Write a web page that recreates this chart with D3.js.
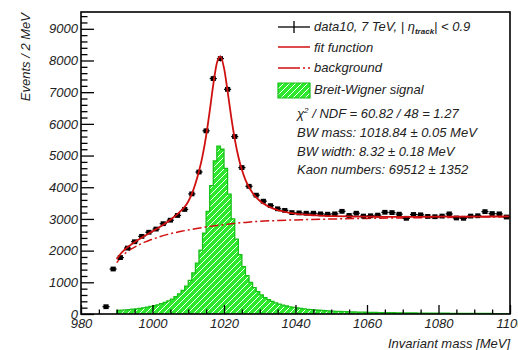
<!DOCTYPE html>
<html><head><meta charset="utf-8">
<script src="https://cdn.jsdelivr.net/npm/d3@7"></script>
<style>
html,body{margin:0;padding:0;background:#fff;}
svg{display:block;}
text{font-family:"Liberation Sans",Arial,Helvetica,sans-serif;font-style:italic;}
</style></head>
<body><svg id="c" width="518" height="350"></svg>
<script>
// ---- data ----
const xTicks = [980, 1000, 1020, 1040, 1060, 1080, 1100];
const yTicks = [0, 1000, 2000, 3000, 4000, 5000, 6000, 7000, 8000, 9000];

// measured points (bin centres, 2 MeV bins)
const dataMass = [987, 989, 991, 993, 995, 997, 999, 1001, 1003, 1005, 1007, 1009,
  1011, 1013, 1015, 1017, 1019, 1021, 1023, 1025, 1027, 1029, 1031, 1033, 1035, 1037, 1039,
  1041, 1043, 1045, 1047, 1049, 1051, 1053, 1055, 1057, 1059, 1061, 1063, 1065, 1067, 1069,
  1071, 1073, 1075, 1077, 1079, 1081, 1083, 1085, 1087, 1089, 1091, 1093, 1095, 1097, 1099];
const dataCounts = [230, 1420, 1780, 2080, 2280, 2450, 2580, 2680, 2850, 2960, 3110, 3300,
  3790, 4480, 5780, 7430, 8060, 7090, 5600, 4620, 4030, 3750, 3560, 3420, 3320, 3270, 3200,
  3190, 3180, 3180, 3160, 3150, 3160, 3240, 3110, 3180, 3090, 3100, 3120, 3210, 3200, 3150,
  3020, 3140, 3130, 3080, 3070, 3090, 3160, 3030, 3020, 3090, 3100, 3230, 3170, 3160, 3060];

// fit function (signal + background)
const fitMass = [990, 991, 992, 993, 994, 995, 996, 997, 998, 999, 1000, 1001, 1002, 1003, 1004,
  1005, 1006, 1007, 1008, 1009, 1010, 1011, 1012, 1013, 1014, 1015, 1016, 1017, 1018, 1019,
  1020, 1021, 1022, 1023, 1024, 1025, 1026, 1027, 1028, 1029, 1030, 1031, 1032, 1033, 1034,
  1035, 1036, 1037, 1038, 1039, 1040, 1042, 1044, 1046, 1048, 1050, 1055, 1060, 1065, 1070,
  1080, 1090, 1100];
const fitValues = [1729, 1886, 2005, 2105, 2190, 2268, 2341, 2412, 2479, 2544, 2608, 2675, 2745, 2816, 2892,
  2975, 3060, 3150, 3260, 3380, 3550, 3790, 4110, 4504, 4992, 5623, 6401, 7238, 7916, 8132,
  7765, 7033, 6225, 5525, 4969, 4549, 4235, 3999, 3821, 3680, 3575, 3488, 3419, 3363, 3318,
  3281, 3251, 3224, 3202, 3184, 3168, 3143, 3124, 3110, 3099, 3091, 3078, 3071, 3068, 3067,
  3070, 3074, 3080];

// background component
const bgMass = [990, 991, 992, 993, 994, 995, 996, 997, 998, 999, 1000, 1002, 1004, 1006, 1008,
  1010, 1012, 1014, 1016, 1018, 1020, 1022, 1024, 1026, 1028, 1030, 1035, 1040, 1050, 1060,
  1070, 1080, 1090, 1100];
const bgValues = [1620, 1770, 1880, 1970, 2045, 2110, 2170, 2225, 2275, 2320, 2360, 2438, 2504, 2560, 2608,
  2652, 2692, 2728, 2765, 2795, 2820, 2845, 2870, 2890, 2910, 2925, 2950, 2970, 2998, 3017,
  3032, 3045, 3056, 3066];

// Breit-Wigner signal histogram (1 MeV bins starting at 990 MeV)
const sigStart = 990, sigBin = 1;
const sigValues = [112, 121, 130, 140, 151, 164, 179, 195, 214, 236,
  261, 290, 324, 365, 414, 472, 544, 632, 742, 882,
  1062, 1296, 1604, 2013, 2553, 3240, 4049, 4829, 5295, 5199,
  4598, 3783, 3004, 2364, 1870, 1496, 1214, 999, 834, 704,
  602, 519, 452, 397, 351, 313, 280, 252, 228, 208,
  190, 174, 160, 147, 136, 127, 118, 110, 103, 96,
  90, 85, 80, 75, 71, 67, 64, 60, 57, 55,
  52, 50, 48, 46, 44, 42, 40, 39, 37, 36,
  35, 33, 32, 31, 30, 29, 28, 27, 26, 25,
  24, 23, 23, 22, 21, 21, 20, 19, 19, 18,
  18, 17, 17, 16, 16, 15, 15, 15, 14, 14];

const legendEntries = ["fit function", "background", "Breit-Wigner signal"];
const statLines = ["BW mass: 1018.84 \u00b1 0.05 MeV", "BW width: 8.32 \u00b1 0.18 MeV", "Kaon numbers: 69512 \u00b1 1352"];

// ---- drawing ----
const svg = d3.select("#c");
const L = 81, R = 510, T = 12, B = 314;
const x = d3.scaleLinear().domain([980, 1100]).range([L, R]);
const y = d3.scaleLinear().domain([0, 9530]).range([B, T]);

const RED = "#d01010", GREEN = "#2ee82e", GREEN_D = "#18c018";

const defs = svg.append("defs");
const clip = defs.append("clipPath").attr("id", "pc");
clip.append("rect").attr("x", L).attr("y", T).attr("width", R - L).attr("height", B - T);

const plot = svg.append("g").attr("clip-path", "url(#pc)");

// hatched fill helper: green fill + white diagonal lines clipped to a shape
function hatch(parent, id, shapeD, bx0, by0, bx1, by1) {
  defs.append("clipPath").attr("id", id).append("path").attr("d", shapeD);
  const g = parent.append("g");
  g.append("path").attr("d", shapeD).attr("fill", GREEN);
  const hg = g.append("g").attr("clip-path", `url(#${id})`);
  const h = by1 - by0;
  d3.range(bx0 - h, bx1 + 6, 6).forEach(s => {
    hg.append("line").attr("x1", s).attr("y1", by1).attr("x2", s + h).attr("y2", by0)
      .attr("stroke", "#fff").attr("stroke-width", 1);
  });
  return g;
}

// signal histogram
const sigPts = sigValues.map((v, i) => ({m: sigStart + i * sigBin, v}));
sigPts.push({m: sigStart + sigValues.length * sigBin, v: sigValues[sigValues.length - 1]});
const sigArea = d3.area().curve(d3.curveStepAfter)
  .x(d => x(d.m)).y0(y(0)).y1(d => y(d.v));
hatch(plot, "sigclip", sigArea(sigPts), L, T, R, B);
const sigLine = d3.line().curve(d3.curveStepAfter).x(d => x(d.m)).y(d => y(d.v));
plot.append("path").datum([{m: sigStart, v: 0}].concat(sigPts)).attr("d", sigLine)
  .attr("fill", "none").attr("stroke", GREEN_D).attr("stroke-width", 1.3);

// background
const bgLine = d3.line().curve(d3.curveMonotoneX).x((d, i) => x(bgMass[i])).y(d => y(d));
plot.append("path").datum(bgValues).attr("d", bgLine)
  .attr("fill", "none").attr("stroke", RED).attr("stroke-width", 1.5)
  .attr("stroke-dasharray", "9,3,2,3");

// data points
const pts = plot.append("g");
dataMass.forEach((m, i) => {
  const c = dataCounts[i], e = Math.sqrt(c);
  const cx = x(m), cy = y(c);
  pts.append("line").attr("x1", x(m - 1)).attr("x2", x(m + 1)).attr("y1", cy).attr("y2", cy)
    .attr("stroke", "#000").attr("stroke-width", 1.2);
  pts.append("line").attr("x1", cx).attr("x2", cx).attr("y1", y(c - e)).attr("y2", y(c + e))
    .attr("stroke", "#000").attr("stroke-width", 1.2);
  pts.append("rect").attr("x", cx - 2.6).attr("y", cy - 2.4).attr("width", 5.2).attr("height", 4.8)
    .attr("fill", "#000");
});

// fit
const fitLine = d3.line().curve(d3.curveMonotoneX).x((d, i) => x(fitMass[i])).y(d => y(d));
plot.append("path").datum(fitValues).attr("d", fitLine)
  .attr("fill", "none").attr("stroke", RED).attr("stroke-width", 1.8);

// axes
const xMinor = d3.range(980, 1101, 5).filter(v => !xTicks.includes(v));
const yMinor = d3.range(0, 9530, 200).filter(v => !yTicks.includes(v));

function styleAxis(g) {
  g.select(".domain").remove();
  g.selectAll(".tick line").attr("stroke", "#000").attr("stroke-width", 1.3);
  g.selectAll("text").attr("fill", "#222").style("font-size", "13px").style("font-style", "italic")
    .style("font-family", "'Liberation Sans',Arial,sans-serif");
}
svg.append("g").attr("transform", `translate(0,${B})`)
  .call(d3.axisBottom(x).tickValues(xMinor).tickSize(-4.5).tickFormat(""))
  .call(styleAxis);
svg.append("g").attr("transform", `translate(0,${B})`)
  .call(d3.axisBottom(x).tickValues(xTicks).tickSize(-9).tickPadding(5).tickFormat(d3.format("d")))
  .call(styleAxis);
svg.append("g").attr("transform", `translate(${L},0)`)
  .call(d3.axisLeft(y).tickValues(yMinor).tickSize(-6.5).tickFormat(""))
  .call(styleAxis);
svg.append("g").attr("transform", `translate(${L},0)`)
  .call(d3.axisLeft(y).tickValues(yTicks).tickSize(-13).tickPadding(3).tickFormat(d3.format("d")))
  .call(styleAxis);

// frame
svg.append("rect").attr("x", L).attr("y", T).attr("width", R - L).attr("height", B - T)
  .attr("fill", "none").attr("stroke", "#000").attr("stroke-width", 1.6);

// axis titles
svg.append("text").attr("transform", "translate(30,13) rotate(-90)").attr("text-anchor", "end")
  .style("font-size", "13px").attr("fill", "#222").text("Events / 2 MeV");
svg.append("text").attr("x", 510).attr("y", 348).attr("text-anchor", "end")
  .style("font-size", "13px").attr("fill", "#222").text("Invariant mass [MeV]");

// legend
const lg = svg.append("g");
const lx0 = 278, lx1 = 310, tx = 314;
// data entry
lg.append("line").attr("x1", lx0).attr("x2", lx1).attr("y1", 27).attr("y2", 27).attr("stroke", "#000").attr("stroke-width", 1.3);
lg.append("line").attr("x1", 294).attr("x2", 294).attr("y1", 21).attr("y2", 33).attr("stroke", "#000").attr("stroke-width", 1.3);
const t0 = lg.append("text").attr("x", tx).attr("y", 31).style("font-size", "13px").attr("fill", "#222");
t0.append("tspan").text("data10, 7 TeV, | \u03b7");
t0.append("tspan").attr("dy", 3).style("font-size", "8px").style("font-weight", "bold").text("track");
t0.append("tspan").attr("dy", -3).text("| < 0.9");
// fit
lg.append("line").attr("x1", lx0).attr("x2", lx1).attr("y1", 47).attr("y2", 47).attr("stroke", RED).attr("stroke-width", 1.5);
lg.append("text").attr("x", tx).attr("y", 52).style("font-size", "13px").attr("fill", "#222").text(legendEntries[0]);
// background
lg.append("line").attr("x1", lx0).attr("x2", lx1).attr("y1", 68).attr("y2", 68).attr("stroke", RED).attr("stroke-width", 1.5)
  .attr("stroke-dasharray", "22,3,2,3");
lg.append("text").attr("x", tx).attr("y", 72).style("font-size", "13px").attr("fill", "#222").text(legendEntries[1]);
// signal
const boxD = `M${lx0},83H${lx1}V98H${lx0}Z`;
hatch(lg, "legclip", boxD, lx0, 83, lx1, 98);
lg.append("path").attr("d", boxD).attr("fill", "none").attr("stroke", GREEN_D).attr("stroke-width", 1.2);
lg.append("text").attr("x", tx).attr("y", 94).style("font-size", "13px").attr("fill", "#222").text(legendEntries[2]);
// stats
const chi = lg.append("text").attr("x", 297).attr("y", 118).style("font-size", "13px").attr("fill", "#222");
chi.append("tspan").text("\u03c7");
chi.append("tspan").attr("dy", -5).style("font-size", "8px").text("2");
chi.append("tspan").attr("dy", 5).text(" / NDF = 60.82 / 48 = 1.27");
statLines.forEach((s, i) => {
  lg.append("text").attr("x", 297).attr("y", 137 + i * 18.7).style("font-size", "13px").attr("fill", "#222").text(s);
});
</script></body></html>
